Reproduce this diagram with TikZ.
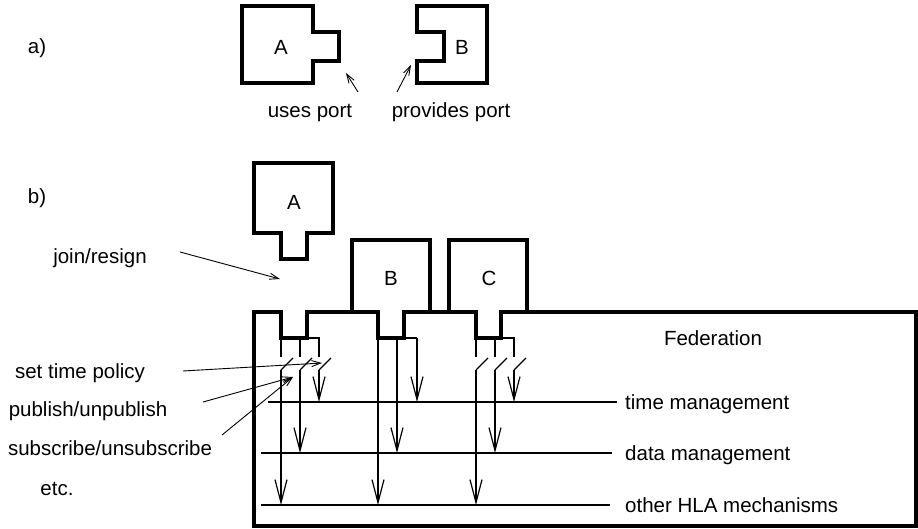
\documentclass[tikz,border=0pt]{standalone}
\usepackage{fontspec}
\setmainfont{Liberation Sans}
\usetikzlibrary{arrows.meta}

\begin{document}
\begin{tikzpicture}[
    x=1pt, y=-1pt,
    every node/.style={font=\fontsize{20.5}{24}\selectfont, inner sep=0pt, text height=14.8pt, text depth=0pt},
    outline/.style={line width=3.5pt},
    wire/.style={line width=1.2pt},
    arrow/.style={line width=1.2pt, -{Straight Barb[length=23pt, width=12pt]}},
    pointer/.style={line width=0.9pt, -{Straight Barb[length=9pt, width=6pt]}}
  ]
    \useasboundingbox (0,0) rectangle (918,529);

    % a) ports
    \node (parta) at (37,46) {a)};
    \draw[outline] (242,6) -- (313,6) -- (313,32) -- (339,32) -- (339,61) -- (313,61) -- (313,83) -- (242,83) -- cycle;
    \draw[outline] (417,6) -- (487,6) -- (487,83) -- (417,83) -- (417,61) -- (444,61) -- (444,32) -- (417,32) -- cycle;
    \node (usesA) at (281,47) {A};
    \node (provB) at (462,47) {B};
    \node (uses) at (310,110) {uses port};
    \node (provides) at (451,110) {provides port};
    \coordinate (usestail) at (358,92);
    \coordinate (usestip) at (346,73);
    \coordinate (provtail) at (397,92);
    \coordinate (provtip) at (411,65);
    \draw[pointer] (usestail) -- (usestip);
    \draw[pointer] (provtail) -- (provtip);

    % b) federation
    \node (partb) at (37,196) {b)};
    \draw[outline] (254,163) -- (333,163) -- (333,233) -- (307,233) -- (307,259) -- (281,259) -- (281,233) -- (254,233) -- cycle;
    \node (fedA) at (294,202) {A};
    \draw[outline] (352,312) -- (352,240) -- (430,240) -- (430,312);
    \node (fedB) at (391,278) {B};
    \draw[outline] (449,312) -- (449,240) -- (527,240) -- (527,312);
    \node (fedC) at (489,278) {C};
    \draw[outline] (254,526) -- (254,312) -- (281,312) -- (281,338) -- (307,338) -- (307,312) -- (378,312) -- (378,338) -- (404,338) -- (404,312)
      -- (476,312) -- (476,338) -- (501,338) -- (501,312) -- (916,312) -- (916,526) -- cycle;
    \node (federation) at (713,338) {Federation};

    % mechanisms
    \node[anchor=west] (time) at (625,402) {time management};
    \node[anchor=west] (data) at (625,453) {data management};
    \node[anchor=west] (other) at (625,505) {other HLA mechanisms};
    \coordinate (tm) at (268,402);
    \coordinate (dm) at (261,453);
    \coordinate (om) at (261,505);
    \draw[wire] (tm) -- ([xshift=-8pt]time.west);
    \draw[wire] (dm) -- ([xshift=-13pt]data.west);
    \draw[wire] (om) -- ([xshift=-15pt]other.west);

    % port of A, with switches
    \coordinate (swA1) at (281,370);
    \coordinate (swA2) at (300,370);
    \coordinate (swA3) at (319,370);
    \draw[wire] (281,338) -- (281,357) (300,338) -- (300,357) (307,338) -- (319,338) -- (319,357);
    \draw[wire] (swA1) -- ++(12,-12) (swA2) -- ++(12,-12) (swA3) -- ++(12,-12);
    \draw[arrow] (swA1) -- (swA1 |- om);
    \draw[arrow] (swA2) -- (swA2 |- dm);
    \draw[arrow] (swA3) -- (swA3 |- tm);

    % port of B
    \coordinate (pB1) at (378,338);
    \coordinate (pB2) at (397,338);
    \coordinate (pB3) at (417,338);
    \draw[wire] (404,338) -- (pB3);
    \draw[arrow] (pB1) -- (pB1 |- om);
    \draw[arrow] (pB2) -- (pB2 |- dm);
    \draw[arrow] (pB3) -- (pB3 |- tm);

    % port of C, with switches
    \coordinate (swC1) at (476,370);
    \coordinate (swC2) at (495,370);
    \coordinate (swC3) at (514,370);
    \draw[wire] (476,338) -- (476,357) (495,338) -- (495,357) (501,338) -- (514,338) -- (514,357);
    \draw[wire] (swC1) -- ++(12,-12) (swC2) -- ++(12,-12) (swC3) -- ++(12,-12);
    \draw[arrow] (swC1) -- (swC1 |- om);
    \draw[arrow] (swC2) -- (swC2 |- dm);
    \draw[arrow] (swC3) -- (swC3 |- tm);

    % services
    \node (join) at (100,256) {join/resign};
    \node (policy) at (80,371) {set time policy};
    \node (publish) at (88,409) {publish/unpublish};
    \node (subscribe) at (110,448) {subscribe/unsubscribe};
    \node (etc) at (57,488) {etc.};
    \coordinate (jointail) at (180,252);
    \coordinate (jointip) at (280,279);
    \coordinate (policytail) at (183,371);
    \coordinate (policytip) at (322,363);
    \coordinate (publishtail) at (203,402);
    \coordinate (subscribetail) at (222,435);
    \coordinate (dataswitch) at (293,377);
    \draw[pointer] (jointail) -- (jointip);
    \draw[pointer] (policytail) -- (policytip);
    \draw[pointer] (publishtail) -- (dataswitch);
    \draw[pointer] (subscribetail) -- (dataswitch);
  \end{tikzpicture}
\end{document}
